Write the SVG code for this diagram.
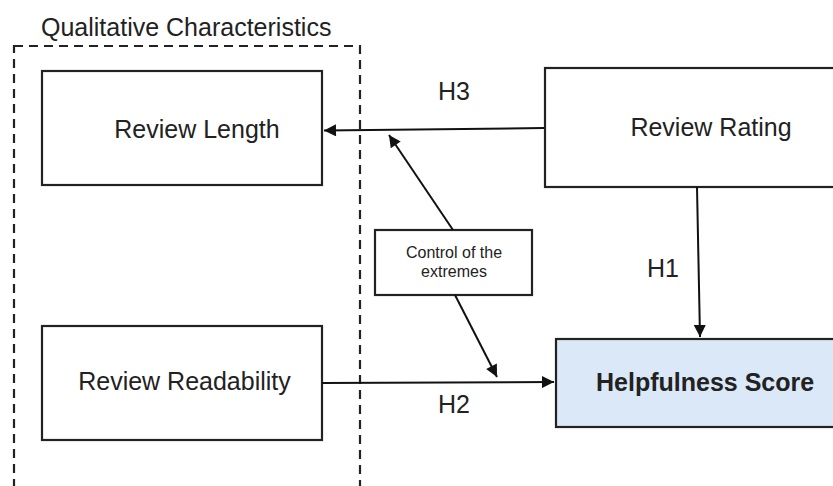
<svg xmlns="http://www.w3.org/2000/svg" width="833" height="486" viewBox="0 0 833 486">
<style>
.box{fill:#fff;stroke:#222;stroke-width:2.2}
.t{font-family:"Liberation Sans",Arial,sans-serif;fill:#222}
.lbl{font-size:25px}
.edge{stroke:#111;stroke-width:2;fill:none}
</style>
<defs>
<marker id="ah2" viewBox="0 0 10 10" refX="10" refY="5" markerWidth="14" markerHeight="12" markerUnits="userSpaceOnUse" orient="auto">
<path d="M0,0 L10,5 L0,10 z" fill="#111"/>
</marker>
</defs>
<rect width="833" height="486" fill="#fff"/>
<g id="group-qualitative">
<rect x="14" y="46" width="346" height="460" fill="none" stroke="#222" stroke-width="2.2" stroke-dasharray="9,6"/>
<text class="t" x="41" y="36" font-size="25">Qualitative Characteristics</text>
</g>
<g id="review-length">
<rect class="box" x="42" y="71" width="280" height="114"/>
<text class="t lbl" x="197" y="138" text-anchor="middle">Review Length</text>
</g>
<g id="review-readability">
<rect class="box" x="42" y="326" width="280" height="114"/>
<text class="t lbl" x="184.5" y="390" text-anchor="middle">Review Readability</text>
</g>
<g id="review-rating">
<rect class="box" x="545" y="68" width="300" height="119"/>
<text class="t lbl" x="711" y="136" text-anchor="middle">Review Rating</text>
</g>
<g id="helpfulness-score">
<rect x="556" y="339" width="290" height="88" fill="#dbe8f8" stroke="#222" stroke-width="2.2"/>
<text class="t" x="596" y="391" font-size="25" font-weight="bold" fill="#111">Helpfulness Score</text>
</g>
<g id="control-extremes">
<rect class="box" x="375" y="230" width="157" height="65" stroke-width="2"/>
<text class="t" x="454" y="258" font-size="16" text-anchor="middle" fill="#444">Control of the</text>
<text class="t" x="454" y="277" font-size="16" text-anchor="middle" fill="#444">extremes</text>
</g>
<g id="connectors">
<line class="edge" x1="544" y1="128" x2="324" y2="130.5" marker-end="url(#ah2)"/>
<line class="edge" x1="697" y1="187" x2="700" y2="337" marker-end="url(#ah2)"/>
<line class="edge" x1="322" y1="383" x2="554" y2="382" marker-end="url(#ah2)"/>
<line class="edge" x1="453" y1="230" x2="389" y2="135" marker-end="url(#ah2)"/>
<line class="edge" x1="455" y1="295" x2="497" y2="377" marker-end="url(#ah2)"/>
<text class="t lbl" x="438" y="100">H3</text>
<text class="t lbl" x="647" y="277">H1</text>
<text class="t lbl" x="438" y="413">H2</text>
</g>
</svg>
